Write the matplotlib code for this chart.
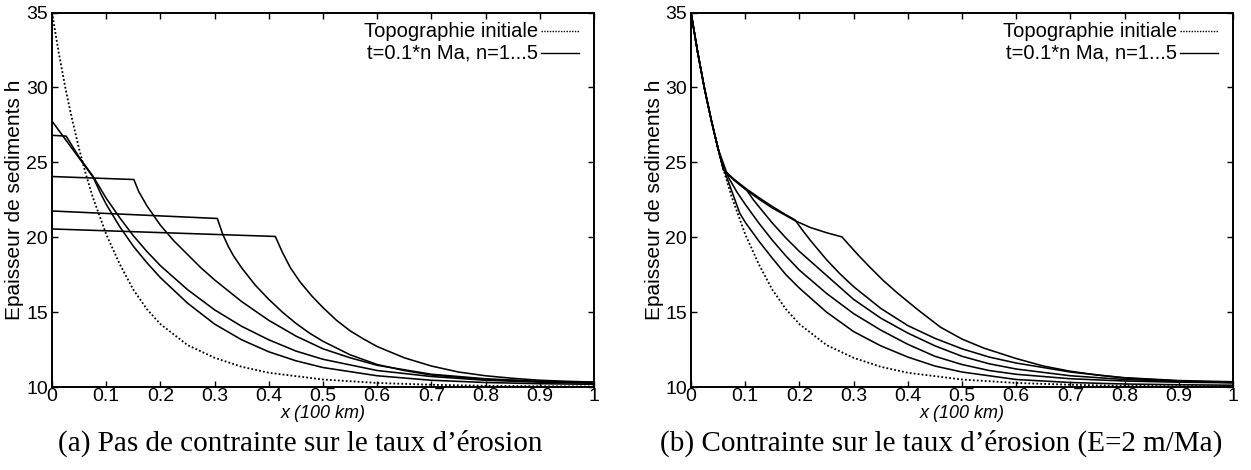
import matplotlib
matplotlib.use("Agg")
import matplotlib.pyplot as plt

# ---------------- data ----------------
x_ticks = [0, 0.1, 0.2, 0.3, 0.4, 0.5, 0.6, 0.7, 0.8, 0.9, 1.0]
x_ticklabels = ["0", "0.1", "0.2", "0.3", "0.4", "0.5", "0.6", "0.7", "0.8", "0.9", "1"]
y_ticks = [10, 15, 20, 25, 30, 35]

init_x = [0, 0.0125, 0.025, 0.0375, 0.05, 0.0625, 0.075, 0.1, 0.125, 0.15, 0.175, 0.2, 0.25, 0.3, 0.35, 0.4, 0.5, 0.6, 0.7, 0.8, 0.9, 1.0]
init_h = [35.0, 32.3, 29.9, 27.8, 25.9, 24.2, 22.7, 20.2, 18.2, 16.5, 15.2, 14.2, 12.8, 11.95, 11.35, 10.95, 10.5, 10.27, 10.15, 10.08, 10.05, 10.03]

# (a) no constraint on erosion rate
a_x1 = [0, 0.076, 0.09, 0.1, 0.125, 0.15, 0.175, 0.2, 0.25, 0.3, 0.35, 0.4, 0.45, 0.5, 0.6, 0.7, 0.8, 0.9, 1.0]
a_h1 = [27.75, 24.0, 22.9, 22.2, 20.7, 19.4, 18.3, 17.3, 15.6, 14.2, 13.15, 12.35, 11.75, 11.3, 10.75, 10.45, 10.3, 10.22, 10.18]
a_x2 = [0, 0.026, 0.05, 0.076, 0.1, 0.125, 0.15, 0.175, 0.2, 0.25, 0.3, 0.35, 0.4, 0.45, 0.5, 0.6, 0.7, 0.8, 0.9, 1.0]
a_h2 = [26.8, 26.75, 25.35, 24.05, 22.6, 21.3, 20.1, 19.05, 18.1, 16.5, 15.15, 14.05, 13.15, 12.4, 11.85, 11.1, 10.7, 10.45, 10.32, 10.25]
a_x3 = [0, 0.151, 0.16, 0.175, 0.2, 0.225, 0.25, 0.275, 0.3, 0.35, 0.4, 0.45, 0.5, 0.55, 0.6, 0.7, 0.8, 0.9, 1.0]
a_h3 = [24.05, 23.85, 23.05, 22.1, 20.8, 19.75, 18.85, 17.95, 17.15, 15.7, 14.45, 13.4, 12.55, 11.95, 11.45, 10.85, 10.55, 10.38, 10.3]
a_x4 = [0, 0.305, 0.315, 0.325, 0.335, 0.35, 0.375, 0.4, 0.425, 0.45, 0.475, 0.5, 0.55, 0.6, 0.65, 0.7, 0.8, 0.9, 1.0]
a_h4 = [21.75, 21.25, 20.2, 19.4, 18.75, 17.95, 16.8, 15.85, 15.0, 14.25, 13.6, 13.05, 12.15, 11.5, 11.1, 10.8, 10.5, 10.37, 10.3]
a_x5 = [0, 0.412, 0.425, 0.44, 0.458, 0.48, 0.5, 0.525, 0.55, 0.575, 0.6, 0.65, 0.7, 0.75, 0.8, 0.85, 0.9, 0.95, 1.0]
a_h5 = [20.55, 20.05, 19.0, 17.95, 17.0, 16.05, 15.3, 14.45, 13.75, 13.2, 12.7, 11.95, 11.4, 11.0, 10.75, 10.58, 10.45, 10.38, 10.33]

# (b) constraint on erosion rate (E=2 m/Ma)
b_x1 = [0, 0.0125, 0.025, 0.0375, 0.05, 0.062, 0.09, 0.1, 0.125, 0.15, 0.175, 0.2, 0.25, 0.3, 0.35, 0.4, 0.45, 0.5, 0.6, 0.7, 0.8, 0.9, 1.0]
b_h1 = [35.0, 32.3, 29.9, 27.8, 25.9, 24.4, 21.6, 21.0, 19.75, 18.6, 17.5, 16.6, 15.0, 13.7, 12.75, 12.0, 11.4, 11.0, 10.5, 10.3, 10.2, 10.15, 10.12]
b_x2 = [0, 0.0125, 0.025, 0.0375, 0.05, 0.069, 0.085, 0.1, 0.125, 0.15, 0.175, 0.2, 0.25, 0.3, 0.35, 0.4, 0.45, 0.5, 0.55, 0.6, 0.7, 0.8, 0.9, 1.0]
b_h2 = [35.0, 32.3, 29.9, 27.8, 25.9, 24.0, 23.0, 22.2, 20.95, 19.8, 18.75, 17.8, 16.25, 14.9, 13.8, 12.85, 12.05, 11.5, 11.1, 10.85, 10.55, 10.4, 10.32, 10.28]
b_x3 = [0, 0.0125, 0.025, 0.0375, 0.05, 0.06, 0.08, 0.103, 0.115, 0.125, 0.15, 0.175, 0.2, 0.25, 0.3, 0.35, 0.4, 0.45, 0.5, 0.55, 0.6, 0.7, 0.8, 0.9, 1.0]
b_h3 = [35.0, 32.3, 29.9, 27.8, 25.9, 24.5, 23.8, 23.13, 22.5, 22.05, 20.95, 19.95, 19.05, 17.45, 15.85, 14.6, 13.6, 12.75, 12.05, 11.55, 11.2, 10.75, 10.5, 10.37, 10.3]
b_x4 = [0, 0.0125, 0.025, 0.0375, 0.05, 0.06, 0.08, 0.103, 0.125, 0.15, 0.175, 0.192, 0.205, 0.22, 0.25, 0.275, 0.3, 0.35, 0.4, 0.45, 0.5, 0.55, 0.6, 0.7, 0.8, 0.9, 1.0]
b_h4 = [35.0, 32.3, 29.9, 27.8, 25.9, 24.5, 23.85, 23.2, 22.65, 22.05, 21.5, 21.15, 20.5, 19.8, 18.5, 17.55, 16.7, 15.25, 14.1, 13.25, 12.55, 12.0, 11.6, 11.0, 10.6, 10.4, 10.3]
b_x5 = [0, 0.0125, 0.025, 0.0375, 0.05, 0.06, 0.08, 0.103, 0.125, 0.15, 0.175, 0.192, 0.22, 0.25, 0.2785, 0.29, 0.31, 0.33, 0.355, 0.38, 0.417, 0.46, 0.5, 0.54, 0.6, 0.65, 0.7, 0.75, 0.8, 0.9, 1.0]
b_h5 = [35.0, 32.3, 29.9, 27.8, 25.9, 24.5, 23.8, 23.13, 22.55, 21.95, 21.45, 21.1, 20.65, 20.3, 20.02, 19.55, 18.75, 18.0, 17.1, 16.3, 15.2, 14.0, 13.2, 12.6, 11.9, 11.4, 11.05, 10.8, 10.62, 10.43, 10.35]

legend_init = "Topographie initiale"
legend_t = "t=0.1*n Ma, n=1...5"
ylabel = "Epaisseur de sediments h"
xlabel = "x (100 km)"
caption_a = "(a) Pas de contrainte sur le taux d\u2019\u00e9rosion"
caption_b = "(b) Contrainte sur le taux d\u2019\u00e9rosion (E=2 m/Ma)"

# ---------------- figure ----------------
W, H = 1251, 470
fig = plt.figure(figsize=(W / 100, H / 100), dpi=100)
sans = "Liberation Sans"
serif = "Liberation Serif"

dot_style = (0, (1.0, 1.2))

panels = [
    (52, [(a_x1, a_h1), (a_x2, a_h2), (a_x3, a_h3), (a_x4, a_h4), (a_x5, a_h5)], caption_a, 300),
    (691, [(b_x1, b_h1), (b_x2, b_h2), (b_x3, b_h3), (b_x4, b_h4), (b_x5, b_h5)], caption_b, 941),
]

ax_w, top_px, bot_px = 542, 12.5, 387
for left_px, curves, caption, cap_x in panels:
    ax = fig.add_axes([left_px / W, 1 - bot_px / H, ax_w / W, (bot_px - top_px) / H])
    ax.plot(init_x, init_h, color="black", lw=1.3, linestyle=dot_style)
    for cx, ch in curves:
        ax.plot(cx, ch, color="black", lw=1.15, solid_joinstyle="round")
    ax.set_xlim(0, 1)
    ax.set_ylim(10, 35)
    ax.set_xticks(x_ticks)
    ax.set_xticklabels(x_ticklabels)
    ax.set_yticks(y_ticks)
    ax.tick_params(direction="in", length=4.5, width=1.0, top=True, right=True,
                   labelsize=14, colors="black")
    ax.tick_params(axis="x", pad=0.5)
    ax.tick_params(axis="y", pad=3.0)
    for lab in ax.get_xticklabels() + ax.get_yticklabels():
        lab.set_fontfamily(sans)
    for sp in ax.spines.values():
        sp.set_linewidth(1.4)
        sp.set_color("black")

    # legend (manual, right aligned like gnuplot)
    lx_text = 486 / ax_w
    lx0, lx1 = 489 / ax_w, 527 / ax_w
    y1 = 1 - (31 - top_px) / (bot_px - top_px)
    y2 = 1 - (53 - top_px) / (bot_px - top_px)
    ax.text(lx_text, y1, legend_init, transform=ax.transAxes, ha="right", va="center",
            fontsize=14.5, family=sans)
    ax.text(lx_text, y2, legend_t, transform=ax.transAxes, ha="right", va="center",
            fontsize=14.5, family=sans)
    ax.plot([lx0, lx1], [y1, y1], transform=ax.transAxes, color="black", lw=1.0,
            linestyle=(0, (1.0, 1.0)), clip_on=False)
    ax.plot([lx0, lx1], [y2, y2], transform=ax.transAxes, color="black", lw=1.0,
            clip_on=False)

    # axis labels
    fig.text((left_px - 37) / W, 1 - 200 / H, ylabel, rotation=90, ha="center", va="center",
             fontsize=15, family=sans)
    fig.text((left_px + ax_w / 2) / W, 1 - 413 / H, xlabel, ha="center", va="center",
             fontsize=13, family=sans, style="italic")
    fig.text(cap_x / W, 1 - 443 / H, caption, ha="center", va="center",
             fontsize=21, family=serif)

fig.savefig("out.png", dpi=100, facecolor="white")
